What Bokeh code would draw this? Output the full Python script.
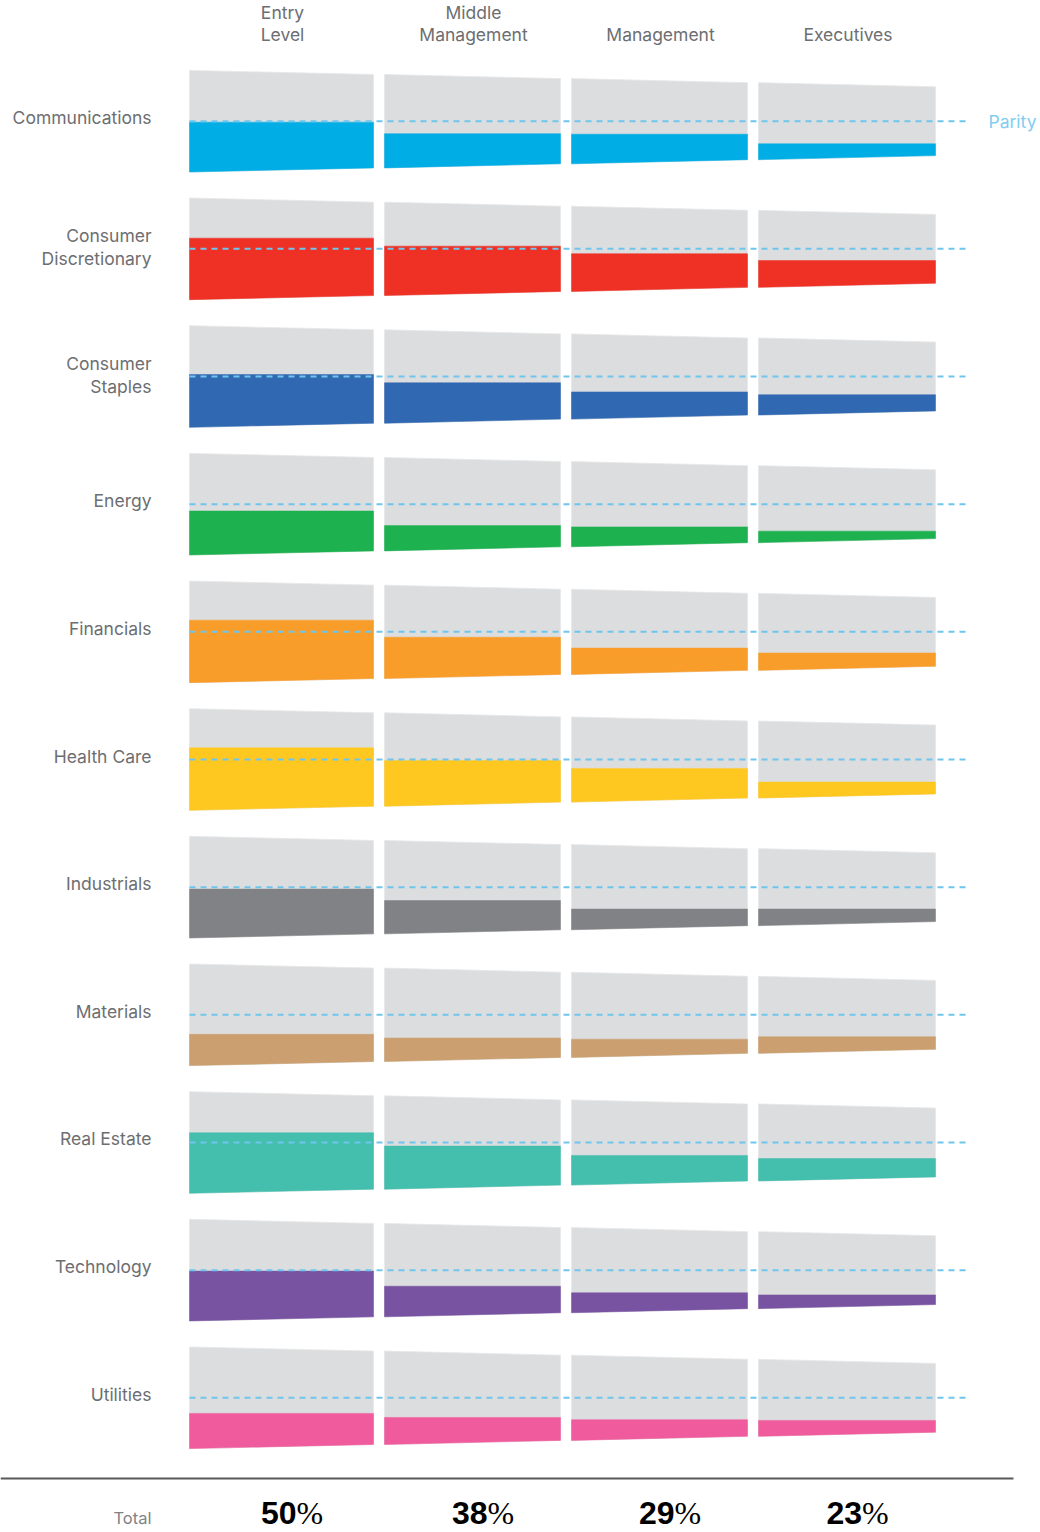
from bokeh.plotting import figure
from bokeh.models import Range1d
from bokeh.embed import file_html
from bokeh.resources import INLINE
from bokeh.core.properties import value

# ---------------- data ----------------
sectors = ["Communications", "Consumer\nDiscretionary", "Consumer\nStaples", "Energy",
           "Financials", "Health Care", "Industrials", "Materials", "Real Estate",
           "Technology", "Utilities"]
level_line1 = ["Entry", "Middle", "", ""]
level_line2 = ["Level", "Management", "Management", "Executives"]

# share of women (%) at each level, per sector
entry_level = [49, 61, 52, 43, 62, 62, 48, 30, 60, 49, 34]
middle_management = [36, 53, 43, 26, 44, 49, 35, 24, 46, 32, 28]
management = [34, 44, 31, 22, 30, 39, 23, 20, 34, 22, 23]
executives = [19, 34, 25, 13, 21, 19, 20, 20, 28, 16, 19]
totals = [50, 38, 29, 23]
parity = 50

sector_colors = ["#00ade4", "#ef3125", "#3068b1", "#1db14f", "#f99d2a", "#fec820",
                 "#818285", "#cb9f6f", "#44bead", "#7753a1", "#ef5b9c"]

levels = [entry_level, middle_management, management, executives]

# ---------------- layout (page pixel space) ----------------
W, H = 1040, 1532
ROW0 = 120.7
PITCH = 127.66
COL_L = [189, 384, 571, 758]
COL_R = [373, 560, 747, 935]
HALF = [50.8, 46.7, 42.6, 38.5, 34.4]     # half height of the funnel at column edges
PARITY_END = 968
GREY = "#dcdddf"
TEXT = "#6d6e71"
DASH = "#6ec6ee"
FONT = value("Inter")

p = figure(width=W, height=H, output_backend="svg", toolbar_location=None,
           x_range=Range1d(0, W), y_range=Range1d(H, 0),
           min_border=0, outline_line_color=None)
p.axis.visible = False
p.grid.visible = False
p.background_fill_color = "white"
p.border_fill_color = "white"

gx, gy, fx, fy, fc = [], [], [], [], []
for i, name in enumerate(sectors):
    c = ROW0 + i * PITCH
    for k in range(4):
        xl, xr = COL_L[k], COL_R[k]
        hl, hr = HALF[k], HALF[k + 1]
        hm = (hl + hr) / 2
        gx.append([xl, xr, xr, xl])
        gy.append([c - hl, c - hr, c + hr, c + hl])
        f = levels[k][i] / 100.0
        t = c + hm - f * 2 * hm
        fx.append([xl, xr, xr, xl])
        fy.append([t, t, c + hr, c + hl])
        fc.append(sector_colors[i])

p.patches(gx, gy, fill_color=GREY, line_color="#e6e7e8", line_width=0.8)
p.patches(fx, fy, fill_color=fc, line_color=fc, line_width=0.5)

# parity lines (parity share sits at the middle of each funnel)
par_y = [ROW0 + i * PITCH + (0.5 - parity / 100.0) for i in range(len(sectors))]
p.segment(x0=[COL_L[0]] * len(sectors), x1=[PARITY_END] * len(sectors),
          y0=par_y, y1=par_y, line_color=DASH, line_width=2, line_dash="6 5")
p.text(x=[988], y=[par_y[0] + 0.5], text=["Parity"], text_color="#7fcdf0",
       text_font=FONT, text_font_size="17.5px", text_align="left",
       text_baseline="middle")

# sector labels
lx, ly, lt = [], [], []
for i, s in enumerate(sectors):
    c = ROW0 + i * PITCH
    parts = s.split("\n")
    if len(parts) == 1:
        lx.append(151); ly.append(c - 3.5); lt.append(s)
    else:
        lx += [151, 151]; ly += [c - 13, c + 10]; lt += parts
p.text(x=lx, y=ly, text=lt, text_color=TEXT, text_font=FONT, text_font_size="17.5px",
       text_align="right", text_baseline="middle")

# column headers
col_c = [(a + b) / 2 + 1 for a, b in zip(COL_L, COL_R)]
p.text(x=col_c, y=[12] * 4, text=level_line1, text_color=TEXT,
       text_font=FONT, text_font_size="17.5px", text_align="center",
       text_baseline="middle")
p.text(x=col_c, y=[34] * 4, text=level_line2, text_color=TEXT,
       text_font=FONT, text_font_size="17.5px", text_align="center",
       text_baseline="middle")

# total rule and totals
p.segment(x0=[0], x1=[1013], y0=[1478], y1=[1478], line_color="#58595b", line_width=2)
split = [c + 14 for c in col_c]
p.text(x=split, y=[1512] * 4, text=[str(v) for v in totals], text_color="black",
       text_font=value("Liberation Sans"), text_font_style="bold", text_font_size="32px",
       text_align="right", text_baseline="middle")
p.text(x=split, y=[1512] * 4, text=["%"] * 4, text_color="black",
       text_font=value("Liberation Sans Narrow"), text_font_size="32px",
       text_align="left", text_baseline="middle")
p.text(x=[151], y=[1517], text=["Total"], text_color="#808285",
       text_font=FONT, text_font_size="16.5px", text_align="right",
       text_baseline="middle")

open("out.html", "w").write(file_html(p, INLINE))
